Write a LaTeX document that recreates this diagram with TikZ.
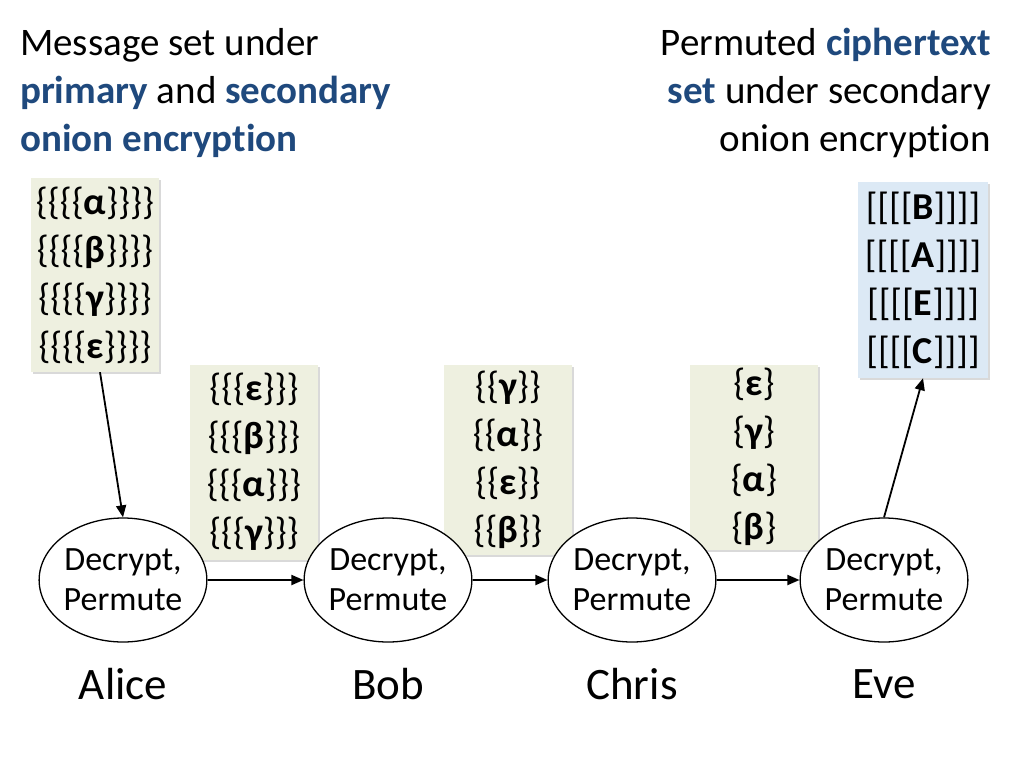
\documentclass[tikz,border=0pt]{standalone}
\usepackage{fontspec}
\setmainfont{Carlito}[Ligatures=NoCommon]
\usetikzlibrary{shapes.geometric,shadows,arrows.meta}
\definecolor{hdblue}{RGB}{31,73,125}
\definecolor{boxgreen}{RGB}{238,240,224}
\definecolor{boxblue}{RGB}{220,233,245}
\newcommand{\hl}[1]{\textcolor{hdblue}{\textbf{#1}}}
\newcommand{\bo}[1]{\textbf{#1}}
\tikzset{
  msgset/.style={draw=none,fill=boxgreen,minimum width=128pt,align=center,inner sep=0pt,
    font=\fontsize{38}{48}\selectfont,drop shadow={shadow xshift=2pt,shadow yshift=-2pt,opacity=0.3}},
  mixnode/.style={ellipse,draw,line width=1.3pt,fill=white,minimum width=144pt,minimum height=124pt,
    align=center,inner sep=0pt,font=\fontsize{34}{40}\selectfont},
  who/.style={font=\fontsize{45}{48}\selectfont},
  flow/.style={-{Triangle[length=12pt,width=10pt]},line width=1.8pt}
}
\begin{document}
\begin{tikzpicture}[x=1pt,y=-1pt]
    \useasboundingbox (0,0) rectangle (1024,768);

    % headings
    \node [anchor=north west,align=left,inner sep=0pt,font=\fontsize{39}{48}\selectfont] (hleft) at (20,28)
      {Message set under\\\hl{primary} and \hl{secondary}\\\hl{onion encryption}};
    \node [anchor=north east,align=right,inner sep=0pt,font=\fontsize{39}{48}\selectfont] (hright) at (991,28)
      {Permuted \hl{ciphertext}\\\hl{set} under secondary\\onion encryption};

    % message sets
    \node [msgset,minimum height=194pt] (s0) at (95,275)
      {\{\{\{\{\bo{α}\}\}\}\}\\\{\{\{\{\bo{β}\}\}\}\}\\\{\{\{\{\bo{γ}\}\}\}\}\\\{\{\{\{\bo{ε}\}\}\}\}};
    \node [msgset,minimum height=195pt] (s1) at (254,462)
      {\{\{\{\bo{ε}\}\}\}\\\{\{\{\bo{β}\}\}\}\\\{\{\{\bo{α}\}\}\}\\\{\{\{\bo{γ}\}\}\}};
    \node [msgset,minimum height=190pt] (s2) at (508,460)
      {\{\{\bo{γ}\}\}\\\{\{\bo{α}\}\}\\\{\{\bo{ε}\}\}\\\{\{\bo{β}\}\}};
    \node [msgset,minimum height=185pt] (s3) at (754,457)
      {\{\bo{ε}\}\\\{\bo{γ}\}\\\{\bo{α}\}\\\{\bo{β}\}};
    \node [msgset,fill=boxblue,minimum width=130pt,minimum height=196pt] (s4) at (923,280)
      {[[[[\bo{B}]]]]\\{}[[[[\bo{A}]]]]\\{}[[[[\bo{E}]]]]\\{}[[[[\bo{C}]]]]};

    % mix nodes
    \node [mixnode] (alice) at (123,580) {Decrypt,\\Permute};
    \node [mixnode] (bob) at (388,580) {Decrypt,\\Permute};
    \node [mixnode] (chris) at (632,580) {Decrypt,\\Permute};
    \node [mixnode] (eve) at (884,580) {Decrypt,\\Permute};

    \node [who] (nalice) at (123,684) {Alice};
    \node [who] (nbob) at (388,684) {Bob};
    \node [who] (nchris) at (632,684) {Chris};
    \node [who] (neve) at (884,684) {Eve};

    % arrows
    \coordinate (s0out) at ([xshift=5pt]s0.south);
    \draw [flow] (s0out) -- (alice.north);
    \draw [flow] (alice) -- (bob);
    \draw [flow] (bob) -- (chris);
    \draw [flow] (chris) -- (eve);
    \draw [flow] (eve.north) -- (s4.south);
\end{tikzpicture}
\end{document}
